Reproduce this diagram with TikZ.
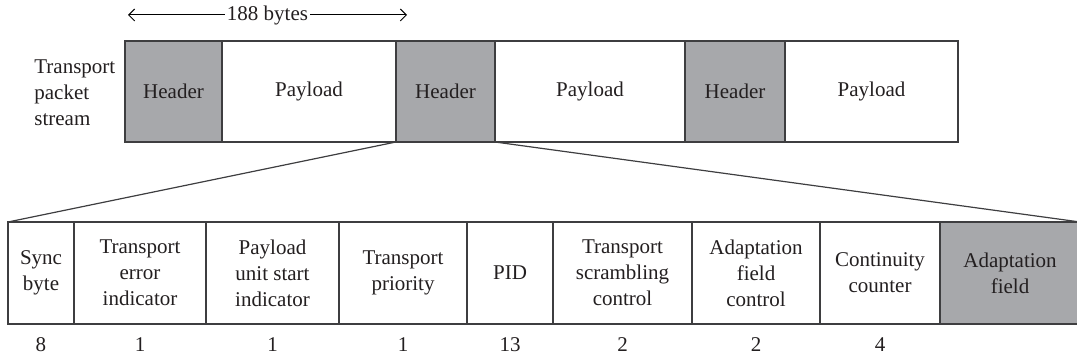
\documentclass[tikz,border=0pt]{standalone}
\usepackage{fontspec}
\setmainfont{Liberation Serif}
\usetikzlibrary{positioning}
\usetikzlibrary{arrows.meta}
\definecolor{hdrgray}{RGB}{167,168,171}
\definecolor{edgegray}{RGB}{62,62,64}
\definecolor{inkgray}{RGB}{35,31,32}

\begin{document}
\begin{tikzpicture}[x=0.5pt,y=-0.5pt,
        every node/.style={text=inkgray, font=\fontsize{10.5}{13}\selectfont},
        cell/.style={draw=edgegray, line width=0.7pt, minimum height=#1, inner sep=0pt, outer sep=0pt, align=center},
        hdr/.style={cell=50.5pt, fill=hdrgray, minimum width=#1*0.5pt},
        pay/.style={cell=50.5pt, fill=white, minimum width=#1*0.5pt},
        fld/.style={cell=51pt, fill=white, minimum width=#1*0.5pt},
        fldgray/.style={cell=51pt, fill=hdrgray, minimum width=#1*0.5pt},
        bits/.style={inner sep=0pt, below=6.5pt of #1},
        zoomline/.style={draw=edgegray, line width=0.6pt},
        span/.style={line width=0.5pt, {Straight Barb[length=3pt,width=6pt]}-{Straight Barb[length=3pt,width=6pt]}}]
    \useasboundingbox (0,0) rectangle (1077,362);

    % packet stream
    \node[align=left, anchor=west, inner sep=0pt] (stream) at (34,93) {Transport\\packet\\stream};
    \node[hdr=97] (h1) at (173.5,91.5) {Header};
    \node[pay=174, right=0pt of h1] (p1) {Payload};
    \node[hdr=99, right=0pt of p1] (h2) {Header};
    \node[pay=190, right=0pt of h2] (p2) {Payload};
    \node[hdr=100, right=0pt of p2] (h3) {Header};
    \node[pay=173, right=0pt of h3] (p3) {Payload};

    % packet length
    \coordinate (lenl) at (128,15);
    \coordinate (lenr) at (407,15);
    \draw[span] (lenl) -- node[fill=white, inner sep=1pt] (len) {188 bytes} (lenr);

    % header fields
    \node[fld=66] (sync) at (41,273) {Sync\\byte};
    \node[fld=132, right=0pt of sync] (tei) {Transport\\error\\indicator};
    \node[fld=133, right=0pt of tei] (pusi) {Payload\\unit start\\indicator};
    \node[fld=128, right=0pt of pusi] (prio) {Transport\\priority};
    \node[fld=86, right=0pt of prio] (pid) {PID};
    \node[fld=139, right=0pt of pid] (tsc) {Transport\\scrambling\\control};
    \node[fld=128, right=0pt of tsc] (afc) {Adaptation\\field\\control};
    \node[fld=120, right=0pt of afc] (cc) {Continuity\\counter};
    \node[fldgray=140, right=0pt of cc] (adf) {Adaptation\\field};

    \draw[zoomline] (h2.south west) -- (sync.north west);
    \draw[zoomline] (h2.south east) -- (adf.north east);

    % field sizes
    \node[bits=sync] (nsync) {8};
    \node[bits=tei] (ntei) {1};
    \node[bits=pusi] (npusi) {1};
    \node[bits=prio] (nprio) {1};
    \node[bits=pid] (npid) {13};
    \node[bits=tsc] (ntsc) {2};
    \node[bits=afc] (nafc) {2};
    \node[bits=cc] (ncc) {4};
\end{tikzpicture}
\end{document}
